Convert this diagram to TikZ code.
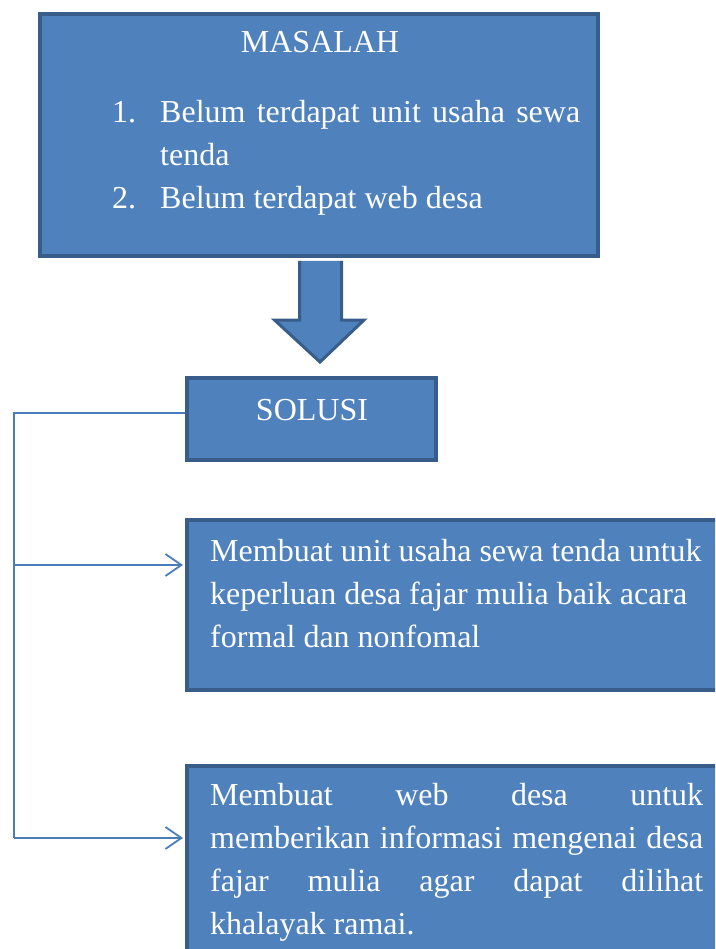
\documentclass[tikz,border=0pt]{standalone}
\usepackage{fontspec}
\setmainfont{Liberation Serif}
\usetikzlibrary{positioning,arrows.meta,calc}
\definecolor{kotakisi}{HTML}{4F81BD}
\definecolor{kotakgaris}{HTML}{385D8A}
\definecolor{garisbiru}{HTML}{4A7EBB}

\begin{document}
\begin{tikzpicture}[
    x=1pt, y=-1pt,
    kotak/.style={rectangle, draw=kotakgaris, fill=kotakisi, line width=4pt, inner sep=0pt},
    teks/.style={text=white, inner sep=0pt, font=\fontsize{32}{43}\selectfont},
    panah/.style={draw=kotakgaris, fill=kotakisi, line width=3pt, line join=miter},
    garis/.style={draw=garisbiru, line width=1.8pt},
    arrow/.style={garis, shorten >=2pt, -{Straight Barb[length=16pt, width=22pt]}}
]
\clip (0,0) rectangle (715,949);

% Kotak masalah
\node[kotak, minimum width=558pt, minimum height=242pt] (masalah) at (319,135) {};
\node[teks, anchor=base] (judul) at (320,53) {MASALAH};
\node[teks, anchor=north west] (daftar) at (112,92) {\begin{tabular}{@{}p{48pt}@{}p{420pt}@{}}
1. & Belum terdapat unit usaha sewa tenda\\
2. & Belum terdapat web desa
\end{tabular}};

% Panah besar ke bawah
\draw[panah] ($(masalah.south)+(-19.5,3)$) -- ++(0,59) -- ++(-25,0)
    -- ($(masalah.south)+(1,104)$) -- ($(masalah.south)+(45,62)$)
    -- ++(-22.5,0) -- ++(0,-59);

% Kotak solusi
\node[kotak, minimum width=249pt, minimum height=82pt] (solusi) at (311.5,419) {};
\node[teks, anchor=base] (judulsolusi) at (312,420) {SOLUSI};

% Solusi 1 dan 2
\node[kotak, minimum width=538pt, minimum height=170pt] (usaha) at (456,605) {};
\node[teks, anchor=north west, align=left] (isiusaha) at (210,539)
    {Membuat unit usaha sewa tenda untuk\\keperluan desa fajar mulia baik acara\\formal dan nonfomal};

\node[kotak, minimum width=538pt, minimum height=224pt] (web) at (456,878) {};
\node[teks, anchor=north west, text width=493pt, align=justify] (isiweb) at (210,783)
    {Membuat web desa untuk\linebreak memberikan informasi mengenai desa\linebreak
     fajar mulia agar dapat dilihat\linebreak khalayak ramai.};

% Garis penghubung
\coordinate (sudut) at (14,838);
\coordinate (cabang) at (14,565);
\draw[garis] ([yshift=6pt]solusi.west) -| (sudut);
\draw[arrow] (cabang) -- (usaha.west |- cabang);
\draw[arrow] (sudut) -- (web.west |- sudut);

\end{tikzpicture}
\end{document}
